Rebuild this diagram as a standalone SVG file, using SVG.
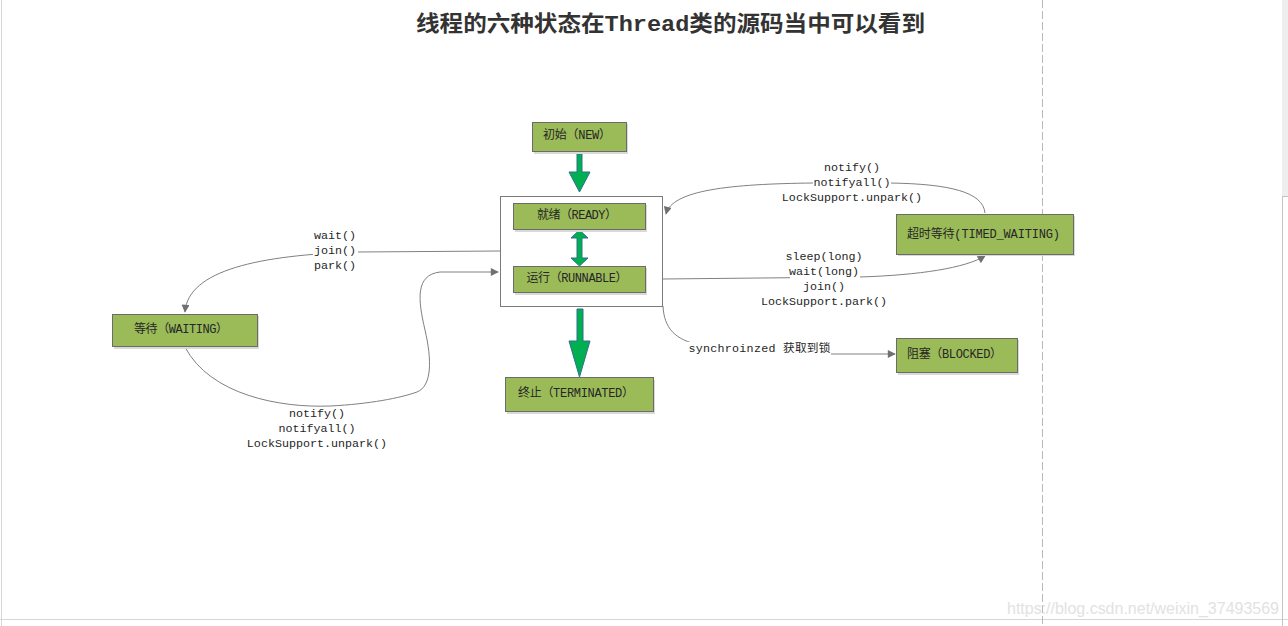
<svg xmlns="http://www.w3.org/2000/svg" width="1288" height="626" viewBox="0 0 1288 626">
<defs>
<style>
.node rect.box{fill:#9BBB59;stroke:#6b6b6b;stroke-width:1}
.node rect.sh{fill:#d9d9d9}
.nt{font-family:"Liberation Mono","Noto Sans CJK SC",monospace;font-size:12px;fill:#262626;text-anchor:middle;dominant-baseline:central}
.lb{font-family:"Liberation Mono","Noto Sans CJK SC",monospace;font-size:11.7px;fill:#262626;text-anchor:middle;dominant-baseline:central}
.conn path{fill:none;stroke:#808080;stroke-width:1}
.garrow{fill:#00B050;stroke:#2f6f8f;stroke-width:1}
.bg{fill:#fff}
</style>
<marker id="ah" viewBox="0 0 10 10" refX="9" refY="5" markerWidth="9" markerHeight="8" markerUnits="userSpaceOnUse" orient="auto">
<path d="M0,0 L10,5 L0,10 Z" fill="#707070"/>
</marker>
</defs>
<rect width="1288" height="626" fill="#fff"/>
<g id="page">
<line x1="1.5" y1="0" x2="1.5" y2="626" stroke="#d6d6d6"/>
<line x1="0" y1="619.5" x2="1288" y2="619.5" stroke="#d6d6d6"/>
<line x1="1042.5" y1="0" x2="1042.5" y2="626" stroke="#b8b8b8" stroke-dasharray="8,3"/>
<rect x="1282" y="0" width="6" height="196" fill="#eeeeee"/>
<line x1="1282.5" y1="196" x2="1282.5" y2="626" stroke="#c4c4c4"/>
<line x1="1282.5" y1="196.5" x2="1288" y2="196.5" stroke="#c4c4c4"/>
</g>
<text x="670.5" y="31" font-family="'Liberation Mono','Noto Sans CJK SC',monospace" font-size="22" font-weight="bold" fill="#333" text-anchor="middle" textLength="509" lengthAdjust="spacingAndGlyphs">线程的六种状态在Thread类的源码当中可以看到</text>

<g id="container">
<rect x="500.5" y="196.5" width="162" height="110" fill="#fff" stroke="#7a7a7a"/>
</g>

<g class="conn" id="connectors">
<path d="M500,251 L357,252 C260,255 188,270 185,312" marker-end="url(#ah)"/>
<path d="M185,347 C210,395 280,408 330,406 C370,404 400,398 417,392 C432,386 432,360 425,330 C418,300 415,275 440,272 L498,272" marker-end="url(#ah)"/>
<path d="M985,213 C983,192 950,184 890,183 L813,183 C730,184 672,190 666,214" marker-end="url(#ah)"/>
<path d="M663,279 L860,277 C920,275 965,268 985,256" marker-end="url(#ah)"/>
<path d="M663,306 C664,328 675,340 700,345 L830,354 L895,354" marker-end="url(#ah)"/>
</g>

<g id="green-arrows">
<path class="garrow" d="M577,154 L582,154 L582,172 L590,172 L579.5,192 L569,172 L577,172 Z"/>
<path class="garrow" d="M577,309 L583,309 L583,341 L590,341 L579.5,377 L569,341 L577,341 Z"/>
<path class="garrow" d="M579.5,230 L588,238 L582,238 L582,258 L588,258 L579.5,266 L571,258 L577,258 L577,238 L571,238 Z"/>
</g>

<g id="node-new" class="node">
<rect class="sh" x="534" y="124" width="94" height="30"/>
<rect class="box" x="532.5" y="122.5" width="94" height="29"/>
<text class="nt" x="577" y="136" textLength="68">初始（NEW）</text>
</g>
<g id="node-ready" class="node">
<rect class="sh" x="515" y="205" width="132" height="27"/>
<rect class="box" x="513.5" y="203.5" width="132" height="26"/>
<text class="nt" x="577" y="216" textLength="80">就绪（READY）</text>
</g>
<g id="node-runnable" class="node">
<rect class="sh" x="515" y="268" width="132" height="27"/>
<rect class="box" x="513.5" y="266.5" width="132" height="26"/>
<text class="nt" x="577" y="279" textLength="101">运行（RUNNABLE）</text>
</g>
<g id="node-terminated" class="node">
<rect class="sh" x="507" y="380" width="148" height="34"/>
<rect class="box" x="505.5" y="377.5" width="148" height="34"/>
<text class="nt" x="576" y="394" textLength="116">终止（TERMINATED）</text>
</g>
<g id="node-waiting" class="node">
<rect class="sh" x="114" y="316" width="145" height="33"/>
<rect class="box" x="112.5" y="314.5" width="145" height="32"/>
<text class="nt" x="181" y="330" textLength="94">等待（WAITING）</text>
</g>
<g id="node-timed-waiting" class="node">
<rect class="sh" x="898" y="216" width="177" height="40"/>
<rect class="box" x="896.5" y="214.5" width="177" height="40"/>
<text class="nt" x="983.5" y="235" textLength="153">超时等待(TIMED_WAITING)</text>
</g>
<g id="node-blocked" class="node">
<rect class="sh" x="898" y="340" width="121" height="35"/>
<rect class="box" x="896.5" y="338.5" width="121" height="34"/>
<text class="nt" x="954.5" y="355" textLength="95">阻塞（BLOCKED）</text>
</g>

<g id="labels">
<text class="lb" x="335" y="236">wait()</text>
<rect class="bg" x="313" y="245" width="45" height="13"/>
<text class="lb" x="335" y="251">join()</text>
<text class="lb" x="335" y="266">park()</text>

<text class="lb" x="317" y="414">notify()</text>
<text class="lb" x="317" y="429">notifyall()</text>
<text class="lb" x="317" y="444">LockSupport.unpark()</text>

<text class="lb" x="852" y="168">notify()</text>
<rect class="bg" x="813" y="177" width="78" height="13"/>
<text class="lb" x="852" y="183">notifyall()</text>
<text class="lb" x="852" y="198">LockSupport.unpark()</text>

<text class="lb" x="824" y="257">sleep(long)</text>
<rect class="bg" x="790" y="266" width="70" height="13"/>
<text class="lb" x="824" y="272">wait(long)</text>
<text class="lb" x="824" y="287">join()</text>
<text class="lb" x="824" y="302">LockSupport.park()</text>

<rect class="bg" x="688" y="342" width="143" height="13"/>
<text class="lb" x="759.5" y="349" textLength="142">synchroinzed 获取到锁</text>
</g>

<text x="1279" y="614" font-family="'Liberation Sans',Arial,sans-serif" font-size="16" fill="#e2e2e2" text-anchor="end" textLength="272">https://blog.csdn.net/weixin_37493569</text>
</svg>
